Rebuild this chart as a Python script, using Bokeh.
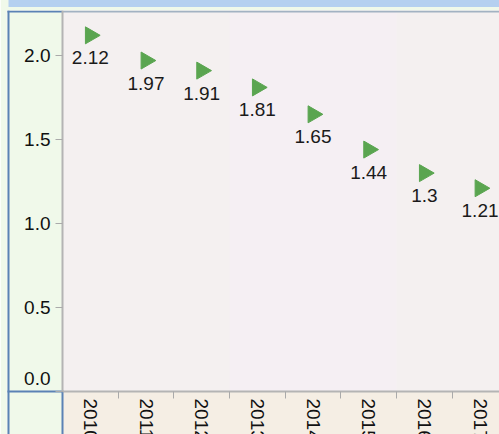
import math
from bokeh.plotting import figure
from bokeh.models import ColumnDataSource, FixedTicker, Range1d, LabelSet, Label, BoxAnnotation
from bokeh.embed import file_html
from bokeh.resources import INLINE
from bokeh.core.properties import value

# ---- data ----
years = [2010, 2011, 2012, 2013, 2014, 2015, 2016, 2017]
rates = [2.12, 1.97, 1.91, 1.81, 1.65, 1.44, 1.30, 1.21]
rate_labels = ["2.12", "1.97", "1.91", "1.81", "1.65", "1.44", "1.3", "1.21"]
year_labels = ["2010", "2011", "2012", "2013", "2014", "2015", "2016", "2017"]
y_ticks = [0.0, 0.5, 1.0, 1.5, 2.0]
y_tick_labels = ["0.0", "0.5", "1.0", "1.5", "2.0"]
title_text = "Fertility rate (births per woman)"

# ---- layout (pixels) ----
FONT = "Liberation Sans"
W, H = 499, 491
T = 40                  # part of the figure above the window
PX_YEAR, PX_UNIT = 55.67, 168.0
AX_X, AX_Y = 62, 391    # where the y axis / x axis sit (window pixels)
FL, FT = 6, 10          # frame left / top (window pixels)
FB = H - T              # frame bottom (window pixels)

x0 = years[0] - 0.5
def dx(px):
    return x0 + (px - AX_X) / PX_YEAR
def dy(py):
    return (AX_Y - py) / PX_UNIT

x_start, x_end = dx(FL), dx(W)
y_start, y_end = dy(FB), dy(FT)

src = ColumnDataSource(dict(x=years, y=rates, lab=rate_labels))

p = figure(width=W, height=H, output_backend="svg", toolbar_location=None,
           x_range=Range1d(x_start, x_end), y_range=Range1d(y_start, y_end),
           min_border_left=FL, min_border_right=0, min_border_top=T + FT, min_border_bottom=0,
           title=title_text)

GREEN, BEIGE, BASE, BAND = "#f0f9ea", "#f5eee4", "#f4f0f0", "#f5eff3"
BLUE, TOPLINE, AXIS = "#5b82b5", "#a2b2c2", "#b4b4b4"

p.border_fill_color = GREEN
p.background_fill_color = BASE
p.outline_line_color = None
p.xgrid.visible = False
p.ygrid.visible = False

p.title.text_font = FONT
p.title.text_font_size = "19px"
p.title.text_font_style = "normal"
p.title.background_fill_color = "#b5d0f0"
p.title.standoff = 7
p.title.offset = 8 - FL
try:
    p.title.padding = dict(left=0, right=520, top=0, bottom=9)
except Exception:
    pass

# decorative panels and rules, drawn beneath the axes
def box(l, r, b, t, color):
    p.add_layout(BoxAnnotation(left=l, right=r, bottom=b, top=t, fill_color=color,
                               fill_alpha=1.0, line_color=None, level="underlay"))

box(years[3] - 0.5, years[6] - 0.5, 0, y_end, BAND)        # shaded band 2013-2015
box(x_start, x0, y_start, y_end, GREEN)                    # y-axis panel
box(x0, x_end, y_start, 0, BEIGE)                          # x-axis panel
box(dx(7), dx(9), y_start, dy(FT), BLUE)                   # left rule
box(dx(7), x0, dy(FT + 2), dy(FT), BLUE)                   # top rule of y panel
box(dx(7), dx(63), dy(AX_Y + 1), dy(AX_Y - 1), BLUE)       # rule under y panel
box(dx(61), dx(63), y_start, 0, BLUE)                      # right rule of corner
box(x0, x_end, dy(FT + 2), dy(FT), TOPLINE)                # top rule of plot area

# x axis (categories), drawn at y = 0
xa = p.xaxis[0]
xa.fixed_location = 0
xa.bounds = (x0, x_end)
xa.ticker = FixedTicker(ticks=years, minor_ticks=[y + 0.5 for y in years])
xa.major_label_overrides = {y: s for y, s in zip(years, year_labels)}
xa.major_label_orientation = "vertical"
xa.major_tick_out = 0
xa.major_tick_in = 0
xa.minor_tick_out = 7
xa.minor_tick_in = 0
xa.minor_tick_line_color = "#aaaaaa"
xa.axis_line_color = AXIS
xa.axis_line_width = 2
xa.major_label_text_font = FONT
xa.major_label_text_font_size = "19px"
xa.major_label_text_color = "#111111"
xa.major_label_standoff = 0

# y axis, drawn at the left edge of the plot area
ya = p.yaxis[0]
ya.fixed_location = x0
ya.bounds = (0, y_end)
ya.ticker = FixedTicker(ticks=y_ticks)
overrides = {t: s for t, s in zip(y_ticks, y_tick_labels)}
overrides[y_ticks[0]] = ""          # the bottom label is drawn just above the rule
ya.major_label_overrides = overrides
ya.major_tick_out = 7
ya.major_tick_in = 0
ya.major_tick_line_color = "#aaaaaa"
ya.minor_tick_line_color = None
ya.axis_line_color = AXIS
ya.axis_line_width = 2
ya.major_label_text_font = FONT
ya.major_label_text_font_size = "19px"
ya.major_label_text_color = "#111111"

p.add_layout(Label(x=x0, y=y_ticks[0], text=y_tick_labels[0], x_offset=-12, y_offset=7,
                   text_align="right", text_baseline="bottom",
                   text_font=FONT, text_font_size="19px", text_color="#111111"))

p.scatter(x="x", y="y", source=src, marker="triangle", size=17,
          angle=-math.pi / 2, color="#5aa550")

p.add_layout(LabelSet(x="x", y="y", text="lab", source=src, y_offset=-16,
                      text_align="center", text_baseline="top",
                      text_font=value(FONT), text_font_size="19px",
                      text_color="#1a1a1a"))

p.styles = {"margin-top": f"-{T}px", "margin-bottom": "-20px"}

open("out.html", "w").write(file_html(p, INLINE))
